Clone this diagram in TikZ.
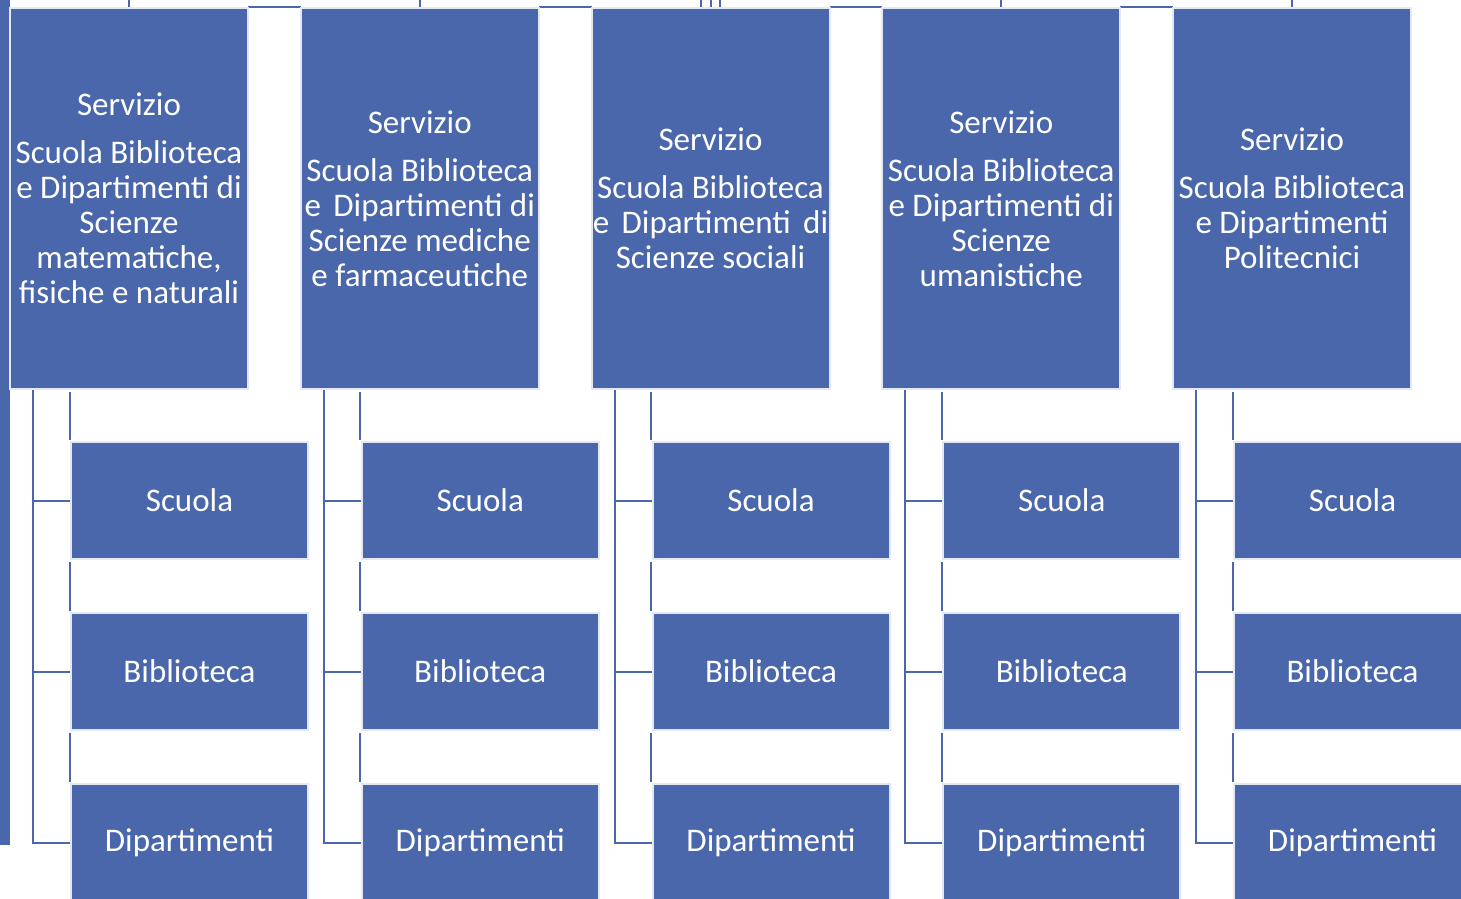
\documentclass[tikz,border=0pt]{standalone}
\usepackage{fontspec}
\setmainfont{Carlito}
\usepackage{xcolor}
\usetikzlibrary{positioning, backgrounds}
\definecolor{smablue}{RGB}{74,103,172}

\begin{document}
\begin{tikzpicture}[x=1pt, y=-1pt]
            % Box styles
            \tikzstyle{servbox} = [rectangle, fill=smablue, draw=white!85!smablue, line width=2pt, outer sep=0pt, text=white, align=center, inner sep=0pt, minimum width=238pt, minimum height=381pt, font=\fontsize{33}{35}\selectfont]
            \tikzstyle{unitbox} = [servbox, minimum width=237pt, minimum height=117pt]
            \tikzstyle{link} = [draw=smablue, line width=2pt]

            \useasboundingbox (0,0) rectangle (1461,898);

            % Strip on the left edge
            \node[rectangle, fill=smablue, inner sep=0pt, outer sep=0pt, minimum width=10pt, minimum height=845pt, anchor=north west] (strip) at (0,0) {};

            % Upper row
            \node[servbox, anchor=north west] (serv1) at (10,8) {Servizio\\[13pt]Scuola Biblioteca\\e Dipartimenti di\\Scienze\\matematiche,\\fisiche e naturali};
            \node[servbox, right=52.75pt of serv1] (serv2) {Servizio\\[13pt]Scuola Biblioteca\\e\hspace{5pt} Dipartimenti di\\Scienze mediche\\e farmaceutiche};
            \node[servbox, right=52.75pt of serv2] (serv3) {Servizio\\[13pt]Scuola Biblioteca\\e\hspace{5pt} Dipartimenti\hspace{5pt} di\\Scienze sociali};
            \node[servbox, right=52.75pt of serv3] (serv4) {Servizio\\[13pt]Scuola Biblioteca\\e Dipartimenti di\\Scienze\\umanistiche};
            \node[servbox, right=52.75pt of serv4] (serv5) {Servizio\\[13pt]Scuola Biblioteca\\e Dipartimenti\\Politecnici};

            % Column 1
            \node[unitbox, anchor=north west] (scuola1) at ([xshift=61pt, yshift=-53pt]serv1.south west) {Scuola};
            \node[unitbox, below=54pt of scuola1] (biblio1) {Biblioteca};
            \node[unitbox, below=54pt of biblio1] (dip1) {Dipartimenti};

            % Column 2
            \node[unitbox, anchor=north west] (scuola2) at ([xshift=61pt, yshift=-53pt]serv2.south west) {Scuola};
            \node[unitbox, below=54pt of scuola2] (biblio2) {Biblioteca};
            \node[unitbox, below=54pt of biblio2] (dip2) {Dipartimenti};

            % Column 3
            \node[unitbox, anchor=north west] (scuola3) at ([xshift=61pt, yshift=-53pt]serv3.south west) {Scuola};
            \node[unitbox, below=54pt of scuola3] (biblio3) {Biblioteca};
            \node[unitbox, below=54pt of biblio3] (dip3) {Dipartimenti};

            % Column 4
            \node[unitbox, anchor=north west] (scuola4) at ([xshift=61pt, yshift=-53pt]serv4.south west) {Scuola};
            \node[unitbox, below=54pt of scuola4] (biblio4) {Biblioteca};
            \node[unitbox, below=54pt of biblio4] (dip4) {Dipartimenti};

            % Column 5
            \node[unitbox, anchor=north west] (scuola5) at ([xshift=61pt, yshift=-53pt]serv5.south west) {Scuola};
            \node[unitbox, below=54pt of scuola5] (biblio5) {Biblioteca};
            \node[unitbox, below=54pt of biblio5] (dip5) {Dipartimenti};

            % Connections (behind the boxes)
            \begin{scope}[on background layer]
                % top line and stubs
                \draw[link] ([yshift=1.5pt]serv1.north east) -- ([yshift=1.5pt]serv2.north west);
                \draw[link] ([yshift=1.5pt]serv2.north east) -- ([yshift=1.5pt]serv3.north west);
                \draw[link] ([yshift=1.5pt]serv3.north east) -- ([yshift=1.5pt]serv4.north west);
                \draw[link] ([yshift=1.5pt]serv4.north east) -- ([yshift=1.5pt]serv5.north west);
                \draw[link] (serv1.north) -- ++(0pt,9pt);
                \draw[link] (serv2.north) -- ++(0pt,9pt);
                \draw[link] ([xshift=-9.5pt]serv3.north) -- ++(0pt,9pt);
                \draw[link] (serv3.north) -- ++(0pt,9pt);
                \draw[link] ([xshift=9.5pt]serv3.north) -- ++(0pt,9pt);
                \draw[link] (serv4.north) -- ++(0pt,9pt);
                \draw[link] (serv5.north) -- ++(0pt,9pt);

                % column 1
                \draw[link] ([xshift=23pt]serv1.south west) |- (scuola1.west);
                \draw[link] ([xshift=23pt]serv1.south west) |- (biblio1.west);
                \draw[link] ([xshift=23pt]serv1.south west) |- (dip1.west);
                \draw[link, shorten >=2pt] ([xshift=-1.5pt, yshift=50pt]scuola1.north west) -- ([xshift=-1.5pt]scuola1.north west);
                \draw[link, shorten <=3pt, shorten >=2pt] ([xshift=-1.5pt]scuola1.south west) -- ([xshift=-1.5pt]biblio1.north west);
                \draw[link, shorten <=3pt, shorten >=2pt] ([xshift=-1.5pt]biblio1.south west) -- ([xshift=-1.5pt]dip1.north west);

                % column 2
                \draw[link] ([xshift=23pt]serv2.south west) |- (scuola2.west);
                \draw[link] ([xshift=23pt]serv2.south west) |- (biblio2.west);
                \draw[link] ([xshift=23pt]serv2.south west) |- (dip2.west);
                \draw[link, shorten >=2pt] ([xshift=-1.5pt, yshift=50pt]scuola2.north west) -- ([xshift=-1.5pt]scuola2.north west);
                \draw[link, shorten <=3pt, shorten >=2pt] ([xshift=-1.5pt]scuola2.south west) -- ([xshift=-1.5pt]biblio2.north west);
                \draw[link, shorten <=3pt, shorten >=2pt] ([xshift=-1.5pt]biblio2.south west) -- ([xshift=-1.5pt]dip2.north west);

                % column 3
                \draw[link] ([xshift=23pt]serv3.south west) |- (scuola3.west);
                \draw[link] ([xshift=23pt]serv3.south west) |- (biblio3.west);
                \draw[link] ([xshift=23pt]serv3.south west) |- (dip3.west);
                \draw[link, shorten >=2pt] ([xshift=-1.5pt, yshift=50pt]scuola3.north west) -- ([xshift=-1.5pt]scuola3.north west);
                \draw[link, shorten <=3pt, shorten >=2pt] ([xshift=-1.5pt]scuola3.south west) -- ([xshift=-1.5pt]biblio3.north west);
                \draw[link, shorten <=3pt, shorten >=2pt] ([xshift=-1.5pt]biblio3.south west) -- ([xshift=-1.5pt]dip3.north west);

                % column 4
                \draw[link] ([xshift=23pt]serv4.south west) |- (scuola4.west);
                \draw[link] ([xshift=23pt]serv4.south west) |- (biblio4.west);
                \draw[link] ([xshift=23pt]serv4.south west) |- (dip4.west);
                \draw[link, shorten >=2pt] ([xshift=-1.5pt, yshift=50pt]scuola4.north west) -- ([xshift=-1.5pt]scuola4.north west);
                \draw[link, shorten <=3pt, shorten >=2pt] ([xshift=-1.5pt]scuola4.south west) -- ([xshift=-1.5pt]biblio4.north west);
                \draw[link, shorten <=3pt, shorten >=2pt] ([xshift=-1.5pt]biblio4.south west) -- ([xshift=-1.5pt]dip4.north west);

                % column 5
                \draw[link] ([xshift=23pt]serv5.south west) |- (scuola5.west);
                \draw[link] ([xshift=23pt]serv5.south west) |- (biblio5.west);
                \draw[link] ([xshift=23pt]serv5.south west) |- (dip5.west);
                \draw[link, shorten >=2pt] ([xshift=-1.5pt, yshift=50pt]scuola5.north west) -- ([xshift=-1.5pt]scuola5.north west);
                \draw[link, shorten <=3pt, shorten >=2pt] ([xshift=-1.5pt]scuola5.south west) -- ([xshift=-1.5pt]biblio5.north west);
                \draw[link, shorten <=3pt, shorten >=2pt] ([xshift=-1.5pt]biblio5.south west) -- ([xshift=-1.5pt]dip5.north west);
            \end{scope}
\end{tikzpicture}
\end{document}
